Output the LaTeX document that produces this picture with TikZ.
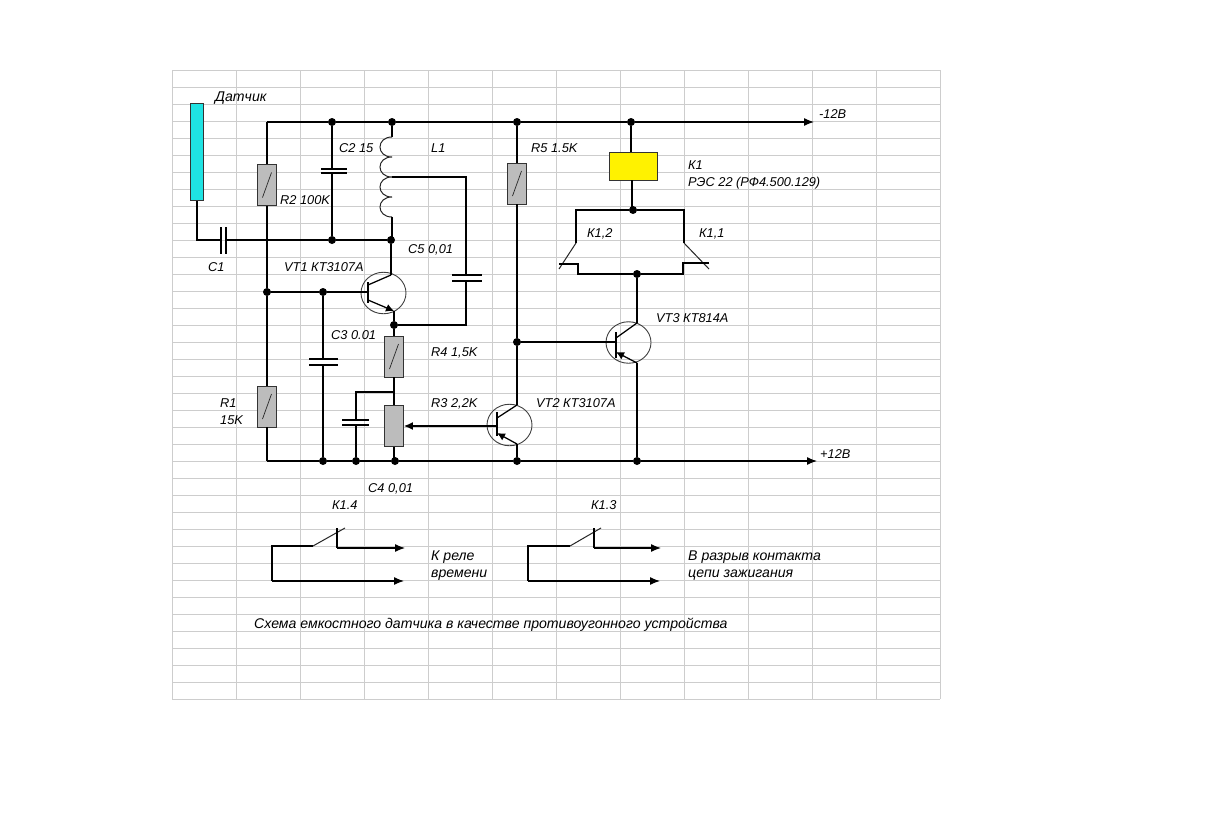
\documentclass[tikz,border=0pt]{standalone}
\usepackage{fontspec}
\setmainfont{Liberation Sans}
\usetikzlibrary{arrows.meta,shapes.geometric}
\definecolor{gridc}{HTML}{CDCDCD}
\definecolor{resc}{HTML}{BCBCBC}
\definecolor{sensc}{HTML}{1FE3E3}
\tikzset{
  x=1pt,y=-1pt,
  gridline/.style={draw=gridc,line width=0.9pt},
  wire/.style={draw=black,line width=1.25pt},
  thin wire/.style={draw=black!85,line width=1pt},
  plate/.style={draw=black,line width=1.2pt},
  dotj/.style={circle,fill=black,inner sep=0pt,minimum size=8pt},
  resbox/.style={rectangle,draw=black!80,line width=0.9pt,fill=resc,inner sep=0pt,minimum width=19pt,minimum height=41pt},
  resslash/.style={resbox,path picture={\draw[black!85,line width=0.7pt]
     ([shift={(-4.5pt,-12.5pt)}]path picture bounding box.center) -- ([shift={(4.5pt,12.5pt)}]path picture bounding box.center);}},
  trans/.style={ellipse,draw=black!75,line width=0.9pt,inner sep=0pt,minimum width=45pt,minimum height=41.5pt},
  tarrow/.style={wire,-{Latex[length=8pt,width=8pt]}},
  rail/.style={wire,-{Latex[length=10pt,width=8pt]}},
  lbl/.style={anchor=base west,inner sep=0pt,font=\fontsize{14.1}{16}\selectfont\itshape,text=black},
  lblsm/.style={anchor=base west,inner sep=0pt,font=\fontsize{12.8}{15}\selectfont\itshape,text=black},
}
\begin{document}
\begin{tikzpicture}
\useasboundingbox (0,0) rectangle (1218,819);
\fill[white] (0,0) rectangle (1218,819);
% spreadsheet grid
\foreach \i in {0,...,12} \draw[gridline] (172+64*\i,70) -- (172+64*\i,699);
\foreach \j in {0,...,37} \draw[gridline] (172,70+17*\j) -- (940,70+17*\j);

% junctions
\node[dotj] (t2) at (332,122) {};
\node[dotj] (t3) at (392,122) {};
\node[dotj] (t5) at (517,122) {};
\node[dotj] (t6) at (631,122) {};
\node[dotj] (m2) at (332,240) {};
\node[dotj] (m3) at (391,240) {};
\node[dotj] (b1) at (267,292) {};
\node[dotj] (b2) at (323,292) {};
\node[dotj] (e1) at (394,325) {};
\node[dotj] (v3b) at (517,342) {};
\node[dotj] (k0) at (633,210) {};
\node[dotj] (k2) at (637,274) {};
\node[dotj] (g2) at (323,461) {};
\node[dotj] (g3) at (356,461) {};
\node[dotj] (g4) at (395,461) {};
\node[dotj] (g5) at (517,461) {};
\node[dotj] (g6) at (637,461) {};

% free ends and corners
\coordinate (tl) at (267,122);
\coordinate (tr) at (814,122);
\coordinate (gl) at (267,461);
\coordinate (gr) at (817,461);

% components
\node[rectangle,draw=black!80,line width=0.9pt,fill=sensc,inner sep=0pt,minimum width=13pt,minimum height=97pt] (sensor) at (197,152) {};
\node[resslash] (r2) at (267,185) {};
\node[resslash] (r1) at (267,406.5) {};
\node[resslash] (r5) at (517,183.5) {};
\node[resslash] (r4) at (394,356.5) {};
\node[resbox] (r3) at (394,426) {};
\node[rectangle,draw=black!80,line width=0.9pt,fill=yellow,inner sep=0pt,minimum width=48pt,minimum height=28pt] (relay) at (633,166) {};
\node[trans] (vt1) at (383.5,293) {};
\node[trans] (vt2) at (509.5,425) {};
\node[trans] (vt3) at (628.5,342.5) {};

% rails
\draw[wire] (tl) -- (t2) -- (t3) -- (t5) -- (t6);
\draw[rail] (t6) -- (tr);
\draw[wire] (gl) -- (g2) -- (g3) -- (g4) -- (g5) -- (g6);
\draw[rail] (g6) -- (gr);

% sensor and C1
\coordinate (c1a) at (221,240);
\coordinate (c1b) at (226,240);
\draw[wire] (sensor.south) -- (197,240) -- (c1a);
\draw[plate] (221,227) -- (221,254);
\draw[plate] (226,227) -- (226,254);
\draw[wire] (c1b) -- (m2) -- (m3);

% left column with R2, R1
\draw[wire] (tl) -- (r2.north);
\draw[wire] (r2.south) -- (b1);
\draw[wire] (b1) -- (r1.north);
\draw[wire] (r1.south) -- (gl);

% C2
\coordinate (c2a) at (332,169);
\coordinate (c2b) at (332,173);
\draw[wire] (t2) -- (c2a);
\draw[plate] (321,169) -- (347,169);
\draw[plate] (321,173) -- (347,173);
\draw[wire] (c2b) -- (m2);

% L1
\coordinate (l0) at (392,137);
\coordinate (l1) at (392,157);
\coordinate (l2) at (392,177);
\coordinate (l3) at (392,197);
\coordinate (l4) at (392,217);
\coordinate (tapc) at (466,177);
\draw[wire] (t3) -- (l0);
\draw[thin wire] (l0) .. controls (376,137) and (376,157) .. (l1)
                      .. controls (376,157) and (376,177) .. (l2)
                      .. controls (376,177) and (376,197) .. (l3)
                      .. controls (376,197) and (376,217) .. (l4);
\draw[wire] (l4) -- (392,240);
% C5
\coordinate (c5a) at (466,275);
\coordinate (c5b) at (466,281);
\draw[wire] (l2) -- (tapc) -- (c5a);
\draw[plate] (452,275) -- (482,275);
\draw[plate] (452,281) -- (482,281);
\draw[wire] (c5b) -- (466,325) -- (e1);

% VT1
\coordinate (vt1c) at (391,275);
\coordinate (vt1e) at (394,311);
\coordinate (vt1bi) at (368,292);
\draw[wire] (m3) -- (vt1c);
\draw[wire] (b1) -- (b2) -- (vt1bi);
\draw[wire] (368,282) -- (368,303);
\draw[wire] (368,285) -- (vt1c);
\draw[tarrow] (368,300) -- (vt1e);
\draw[wire] (vt1e) -- (e1);

% C3
\coordinate (c3a) at (323,359);
\coordinate (c3b) at (323,365);
\draw[wire] (b2) -- (c3a);
\draw[plate] (309,359) -- (338,359);
\draw[plate] (309,365) -- (338,365);
\draw[wire] (c3b) -- (g2);

% R4, R3, C4
\coordinate (n34) at (394,392);
\coordinate (c4a) at (356,420);
\coordinate (c4b) at (356,425);
\draw[wire] (e1) -- (r4.north);
\draw[wire] (r4.south) -- (n34) -- (r3.north);
\draw[wire] (n34) -- (356,392) -- (c4a);
\draw[plate] (342,420) -- (369,420);
\draw[plate] (342,425) -- (369,425);
\draw[wire] (c4b) -- (g3);
\draw[wire] (r3.south) -- (394,461);

% VT2
\coordinate (vt2c) at (517,405);
\coordinate (vt2e) at (517,444);
\draw[-{Latex[length=9pt,width=8pt]},wire] (497,426) -- (r3.east);
\draw[wire] (497,412) -- (497,436);
\draw[wire] (497,418) -- (vt2c);
\draw[tarrow] (vt2e) -- (497,433);
\draw[wire] (t5) -- (r5.north);
\draw[wire] (r5.south) -- (v3b);
\draw[wire] (v3b) -- (vt2c);
\draw[wire] (vt2e) -- (g5);

% VT3
\coordinate (vt3c) at (637,323);
\coordinate (vt3e) at (637,363);
\draw[wire] (v3b) -- (616,342);
\draw[wire] (616,332) -- (616,358);
\draw[wire] (616,338) -- (vt3c);
\draw[tarrow] (vt3e) -- (616,352);
\draw[wire] (k2) -- (vt3c);
\draw[wire] (vt3e) -- (g6);

% relay and its contacts
\draw[wire] (t6) -- (631,152);
\draw[wire] (632,180) -- (632,210);
\coordinate (kl) at (576,210);
\coordinate (kr) at (684,210);
\coordinate (kl2) at (576,243);
\coordinate (kr2) at (684,243);
\draw[wire] (k0) -- (kl) -- (kl2);
\draw[wire] (k0) -- (kr) -- (kr2);
\draw[thin wire] (kl2) -- (559,269);
\draw[thin wire] (kr2) -- (709,269);
\draw[wire] (559,264) -- (578,264) -- (578,274) -- (k2);
\draw[wire] (709,263) -- (683,263) -- (683,274) -- (k2);

% K1.4
\coordinate (a1) at (272,546);
\coordinate (a2) at (313,546);
\coordinate (a3) at (345,528);
\coordinate (a4) at (337,528);
\coordinate (a5) at (337,548);
\coordinate (a6) at (405,548);
\coordinate (a7) at (272,581);
\coordinate (a8) at (404,581);
\draw[wire] (a7) -- (a1) -- (a2);
\draw[thin wire] (a2) -- (a3);
\draw[wire] (a4) -- (a5);
\draw[rail] (a5) -- (a6);
\draw[rail] (a7) -- (a8);

% K1.3
\coordinate (d1) at (528,546);
\coordinate (d2) at (570,546);
\coordinate (d3) at (601,528);
\coordinate (d4) at (594,528);
\coordinate (d5) at (594,548);
\coordinate (d6) at (661,548);
\coordinate (d7) at (528,581);
\coordinate (d8) at (660,581);
\draw[wire] (d7) -- (d1) -- (d2);
\draw[thin wire] (d2) -- (d3);
\draw[wire] (d4) -- (d5);
\draw[rail] (d5) -- (d6);
\draw[rail] (d7) -- (d8);

% labels
\node[lbl] (tx1) at (215,101) {Датчик};
\node[lblsm] (tx2) at (339,152) {C2 15};
\node[lblsm] (tx3) at (431,152) {L1};
\node[lblsm] (tx4) at (280,204) {R2 100K};
\node[lblsm] (tx5) at (208,271) {C1};
\node[lblsm] (tx6) at (408,253) {C5 0,01};
\node[lblsm] (tx7) at (284,271) {VT1 КТ3107А};
\node[lblsm] (tx8) at (331,339) {C3 0.01};
\node[lblsm] (tx9) at (431,356) {R4 1,5K};
\node[lblsm] (tx10) at (431,407) {R3 2,2K};
\node[lblsm] (tx11) at (220,407) {R1};
\node[lblsm] (tx12) at (220,424) {15K};
\node[lblsm] (tx13) at (368,492) {C4 0,01};
\node[lblsm] (tx14) at (536,407) {VT2 КТ3107А};
\node[lblsm] (tx15) at (656,322) {VT3 КТ814А};
\node[lblsm] (tx16) at (688,169) {К1};
\node[lblsm] (tx17) at (688,186) {РЭС 22 (РФ4.500.129)};
\node[lblsm] (tx18) at (587,237) {К1,2};
\node[lblsm] (tx19) at (699,237) {К1,1};
\node[lblsm] (tx20) at (531,152) {R5 1.5K};
\node[lblsm] (tx21) at (819,118) {-12В};
\node[lblsm] (tx22) at (820,458) {+12В};
\node[lblsm] (tx23) at (332,509) {К1.4};
\node[lblsm] (tx24) at (591,509) {К1.3};
\node[lbl] (tx25) at (431,560) {К реле};
\node[lbl] (tx26) at (431,577) {времени};
\node[lbl] (tx27) at (688,560) {В разрыв контакта};
\node[lbl] (tx28) at (688,577) {цепи зажигания};
\node[lbl] (tx29) at (254,628) {Схема емкостного датчика в качестве противоугонного устройства};
\end{tikzpicture}
\end{document}
